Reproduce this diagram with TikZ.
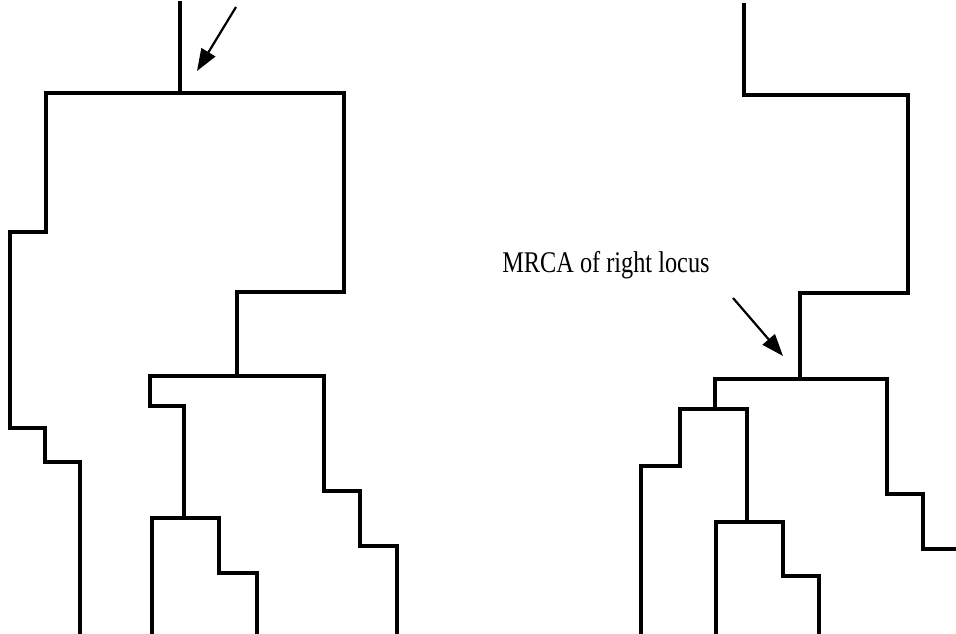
\documentclass[tikz,border=0pt]{standalone}
\usepackage{fontspec}
\setmainfont{Liberation Serif}
\usetikzlibrary{arrows.meta}

\begin{document}
\begin{tikzpicture}[%
    x=1pt, y=-1pt,              % work in pixels, top-down
    >={Triangle[length=22pt,width=16pt]},
    ]
\tikzset{
  branch/.style={line width=4.6pt, line join=miter, line cap=rect},
  pointer/.style={->, line width=2.2pt},
  label/.style={font=\fontsize{30}{36}\selectfont, inner sep=0pt, anchor=base},
}

\clip (0,0) rectangle (956,634);

% left locus
\coordinate (l0) at (180,3);
\coordinate (l1) at (180,93);
\coordinate (l1a) at (46,93);
\coordinate (l1b) at (344,93);
\coordinate (l2) at (237,376);
\coordinate (l2a) at (150,376);
\coordinate (l2b) at (324,376);
\coordinate (l3) at (184,518);
\coordinate (l3a) at (152,518);
\coordinate (l3b) at (219,518);

\draw [branch] (l0) -- (l1);
\draw [branch] (l1a) -- (l1b);
\draw [branch] (l1a) -- (46,232) -- (10,232) -- (10,428) -- (45,428) -- (45,462) -- (80,462) -- (80,632);
\draw [branch] (l1b) -- (344,292) -- (237,292) -- (l2);
\draw [branch] (l2a) -- (l2b);
\draw [branch] (l2a) -- (150,406) -- (184,406) -- (l3);
\draw [branch] (l3a) -- (l3b);
\draw [branch] (l3a) -- (152,632);
\draw [branch] (l3b) -- (219,573) -- (257,573) -- (257,632);
\draw [branch] (l2b) -- (324,491) -- (360,491) -- (360,546) -- (397,546) -- (397,632);

% right locus
\coordinate (r0) at (744,5);
\coordinate (r1) at (800,379);
\coordinate (r1a) at (715,379);
\coordinate (r1b) at (887,379);
\coordinate (r2) at (715,409);
\coordinate (r2a) at (680,409);
\coordinate (r2b) at (747,409);
\coordinate (r3) at (747,522);
\coordinate (r3a) at (716,522);
\coordinate (r3b) at (783,522);

\draw [branch] (r0) -- (744,95) -- (908,95) -- (908,293) -- (800,293) -- (r1);
\draw [branch] (r1a) -- (r1b);
\draw [branch] (r1a) -- (r2);
\draw [branch] (r2a) -- (r2b);
\draw [branch] (r2a) -- (680,466) -- (641,466) -- (641,632);
\draw [branch] (r2b) -- (r3);
\draw [branch] (r3a) -- (r3b);
\draw [branch] (r3a) -- (716,632);
\draw [branch] (r3b) -- (783,576) -- (819,576) -- (819,632);
\draw [branch] (r1b) -- (887,494) -- (923,494) -- (923,549) -- (970,549);

% pointers to the MRCAs
\node [label] (mrca) at (606,272) {\scalebox{0.81}[1]{MRCA of right locus}};
\coordinate (ltail) at (236,7);
\coordinate (ltip) at (197,71);
\coordinate (rtail) at (733,298);
\coordinate (rtip) at (783,356);
\draw [pointer] (ltail) -- (ltip);
\draw [pointer] (rtail) -- (rtip);

\end{tikzpicture}
\end{document}
